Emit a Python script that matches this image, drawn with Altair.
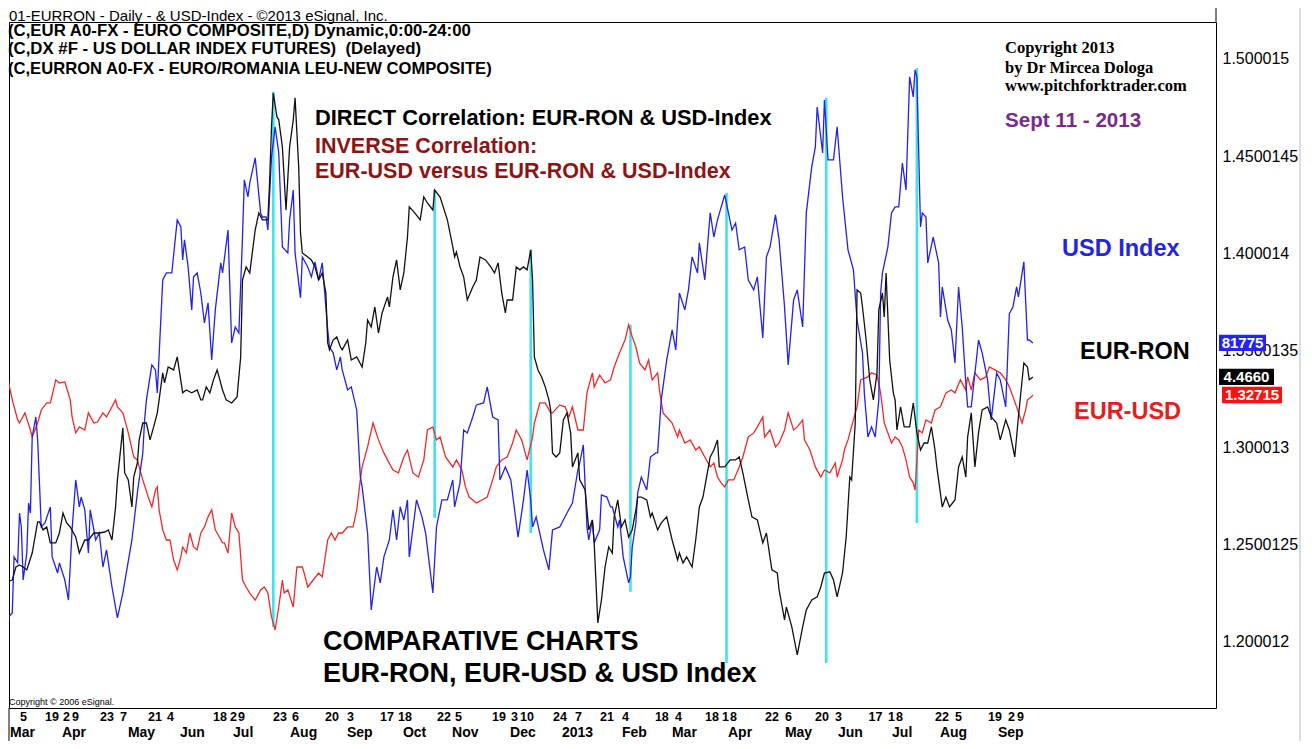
import altair as alt
import pandas as pd

# ---------------------------------------------------------------------------
# Data.  t = days since 2012-03-03 (chart time axis),
# values are in the units of the shared right-hand price scale.
# ---------------------------------------------------------------------------
usd_index = [
    (1,1.1910),(2,1.2129),(4,1.2149),(5,1.2438),(7,1.2407),(8,1.2664),(9,1.2592),(10,1.2319),
    (12,1.2458),(13,1.2715),(14,1.2664),(15,1.3055),(17,1.3158),(18,1.3040),(20,1.2592),(22,1.2613),
    (25,1.2695),(26,1.2438),(29,1.2355),(30,1.2407),(33,1.2319),(35,1.2216),(37,1.2577),(39,1.2834),
    (41,1.2695),(42,1.2746),(44,1.2680),(46,1.2458),(47,1.2680),(50,1.2525),(52,1.2561),(54,1.2386),
    (56,1.2474),(59,1.2283),(62,1.2124),(65,1.2252),(70,1.2525),(73,1.2767),(76,1.2973),(77,1.3143),
    (78,1.3246),(81,1.3426),(83,1.3400),(84,1.3282),(87,1.3863),(89,1.3899),(92,1.3899),(95,1.4172),
    (97,1.4136),(98,1.3966),(99,1.4069),(101,1.3930),(103,1.3709),(104,1.3879),(106,1.3899),(108,1.3796),
    (110,1.3642),(112,1.3745),(114,1.3451),(116,1.3709),(119,1.3951),(120,1.3899),(123,1.4120),(125,1.3539),
    (127,1.3621),(129,1.3590),(131,1.4084),(132,1.4378),(134,1.4290),(135,1.4362),(138,1.4491),(141,1.4208),
    (142,1.4187),(144,1.4187),(145,1.4120),(147,1.4496),(149,1.4651),(151,1.4517),(153,1.4033),(156,1.4002),
    (157,1.4172),(159,1.4326),(160,1.4002),(163,1.3771),(164,1.3981),(167,1.3930),(169,1.3879),(171,1.3956),
    (173,1.3863),(175,1.3951),(178,1.3606),(179,1.3518),(181,1.3488),(183,1.3400),(185,1.3467),(186,1.3400),
    (189,1.3297),(191,1.3313),(194,1.3194),(196,1.2849),(197,1.2798),(200,1.2561),(202,1.2165),(205,1.2386),
    (207,1.2304),(209,1.2438),(212,1.2525),(214,1.2680),(216,1.2525),(218,1.2695),(220,1.2628),(222,1.2731),
    (223,1.2438),(227,1.2731),(230,1.2644),(232,1.2561),(236,1.2252),(238,1.2592),(241,1.2731),(244,1.2731),
    (247,1.2834),(248,1.2695),(251,1.2819),(253,1.3091),(255,1.3076),(258,1.3158),(260,1.3220),(264,1.3230),
    (266,1.3313),(269,1.3158),(272,1.3143),(273,1.2834),(276,1.2901),(279,1.2834),(283,1.2540),(286,1.2731),
    (288,1.2885),(290,1.2731),(291,1.2592),(293,1.2644),(297,1.2474),(300,1.2371),(302,1.2577),(306,1.2592),
    (310,1.2664),(313,1.2715),(316,1.2885),(317,1.2921),(319,1.3014),(321,1.2592),(322,1.2525),(324,1.2628),
    (325,1.2510),(328,1.2577),(329,1.2757),(332,1.2746),(334,1.2695),(335,1.2695),(338,1.2592),(339,1.2628),
    (341,1.2438),(344,1.2304),(345,1.2335),(346,1.2489),(348,1.2613),(349,1.2767),(351,1.2849),(354,1.2782),
    (356,1.2952),(359,1.2973),(360,1.2973),(362,1.3246),(365,1.3451),(368,1.3606),(370,1.3503),(372,1.3796),
    (375,1.3709),(377,1.3812),(379,1.3982),(382,1.3899),(383,1.4054),(386,1.3863),(389,1.4208),(391,1.4084),
    (393,1.4172),(397,1.4301),(401,1.4120),(403,1.4156),(405,1.4018),(408,1.4033),(410,1.3863),(413,1.3812),
    (415,1.3879),(418,1.3565),(420,1.3981),(422,1.4033),(425,1.4198),(427,1.4069),(430,1.3724),(432,1.3426),
    (435,1.3760),(437,1.3812),(440,1.3621),(442,1.4208),(445,1.4445),(447,1.4548),(448,1.4753),(451,1.4517),
    (452,1.4789),(454,1.4481),(457,1.4481),(459,1.4651),(462,1.4290),(465,1.4018),(468,1.3915),(470,1.3657),
    (473,1.3488),(474,1.3282),(476,1.3055),(478,1.3107),(480,1.3055),(482,1.3246),(483,1.3796),(484,1.3899),
    (487,1.4033),(489,1.4208),(491,1.4239),(493,1.4239),(495,1.4465),(497,1.4326),(499,1.4908),(501,1.4805),
    (502,1.4944),(503,1.4908),(505,1.4136),(506,1.4208),(508,1.4187),(509,1.3951),(512,1.4084),(515,1.3951),
    (516,1.3673),(517,1.3827),(520,1.3657),(522,1.3606),(524,1.3436),(526,1.3827),(528,1.3621),(530,1.3333),
    (531,1.3210),(533,1.3210),(537,1.3554),(539,1.3488),(542,1.3349),(544,1.3143),(547,1.3385),(549,1.3349),
    (552,1.3210),(554,1.3690),(556,1.3724),(558,1.3827),(559,1.3776),(562,1.3956),(564,1.3554),(565,1.3554),
    (567,1.3539),
]

eur_ron = [
    (1,1.2309),(4,1.2319),(6,1.2386),(8,1.2396),(10,1.2386),(12,1.2371),(15,1.2458),(18,1.2618),
    (19,1.2618),(21,1.2577),(23,1.2592),(25,1.2510),(28,1.2510),(30,1.2561),(32,1.2664),(34,1.2613),
    (36,1.2592),(39,1.2541),(41,1.2458),(44,1.2525),(46,1.2525),(49,1.2561),(52,1.2561),(55,1.2566),
    (57,1.2577),(59,1.2525),(61,1.2695),(62,1.2834),(65,1.3102),(66,1.2870),(68,1.2834),(70,1.2695),
    (71,1.2849),(73,1.2921),(74,1.3040),(76,1.3127),(78,1.3127),(80,1.3040),(82,1.3107),(84,1.3179),
    (85,1.3246),(87,1.3385),(88,1.3333),(90,1.3415),(93,1.3400),(95,1.3467),(98,1.3282),(100,1.3297),
    (103,1.3282),(106,1.3297),(108,1.3246),(109,1.3246),(111,1.3313),(113,1.3282),(115,1.3349),(117,1.3400),
    (120,1.3297),(122,1.3246),(125,1.3230),(128,1.3261),(130,1.3467),(131,1.3863),(133,1.3930),(135,1.3899),
    (138,1.4120),(140,1.4208),(142,1.4172),(145,1.4172),(146,1.4378),(147,1.4651),(148,1.4825),(150,1.4702),
    (151,1.4687),(153,1.4548),(155,1.4223),(157,1.4548),(159,1.4687),(160,1.4800),(162,1.4445),(163,1.4105),
    (164,1.4002),(167,1.3981),(169,1.3966),(171,1.3930),(173,1.3863),(175,1.3899),(177,1.3796),(178,1.3539),
    (179,1.3503),(181,1.3554),(183,1.3570),(185,1.3518),(186,1.3503),(189,1.3554),(191,1.3451),(194,1.3467),
    (197,1.3415),(199,1.3539),(200,1.3657),(202,1.3621),(204,1.3724),(206,1.3590),(208,1.3693),(211,1.3776),
    (212,1.3724),(214,1.3879),(216,1.3966),(218,1.3812),(220,1.3899),(222,1.4084),(223,1.4239),(226,1.4208),
    (229,1.4172),(231,1.4290),(233,1.4259),(236,1.4223),(237,1.4326),(240,1.4290),(244,1.4172),(247,1.4033),
    (248,1.3981),(249,1.4007),(251,1.3930),(253,1.3879),(255,1.3760),(258,1.3827),(260,1.3863),(262,1.3981),
    (265,1.3966),(268,1.3930),(270,1.3899),(272,1.3951),(274,1.3796),(276,1.3693),(277,1.3760),(280,1.3760),
    (282,1.3930),(284,1.3915),(286,1.3930),(288,1.3915),(290,1.4018),(291,1.3863),(292,1.3467),(294,1.3400),
    (296,1.3364),(298,1.3313),(300,1.3246),(301,1.3194),(302,1.2973),(304,1.2952),(306,1.2973),(308,1.3143),
    (310,1.3179),(312,1.3076),(313,1.2901),(316,1.2973),(317,1.2834),(320,1.2782),(322,1.2577),(324,1.2628),
    (325,1.2510),(327,1.2098),(329,1.2216),(331,1.2386),(333,1.2489),(335,1.2458),(336,1.2644),(338,1.2731),
    (340,1.2592),(342,1.2628),(344,1.2540),(346,1.2577),(348,1.2680),(349,1.2746),(351,1.2746),(354,1.2731),
    (356,1.2644),(357,1.2664),(360,1.2577),(362,1.2613),(365,1.2644),(368,1.2525),(371,1.2422),(372,1.2458),
    (374,1.2407),(376,1.2438),(379,1.2386),(381,1.2525),(383,1.2695),(385,1.2746),(387,1.2849),(389,1.2952),
    (391,1.2988),(393,1.3040),(394,1.2901),(397,1.2901),(400,1.2937),(403,1.2937),(405,1.2952),(407,1.2870),
    (410,1.2731),(412,1.2644),(415,1.2628),(418,1.2510),(420,1.2561),(423,1.2371),(426,1.2355),(427,1.2268),
    (430,1.2114),(431,1.2180),(434,1.2078),(437,1.1934),(440,1.2078),(442,1.2165),(445,1.2216),(448,1.2232),
    (450,1.2283),(452,1.2355),(455,1.2361),(457,1.2319),(459,1.2232),(462,1.2355),(464,1.2540),(466,1.2849),
    (467,1.2834),(469,1.3127),(470,1.3812),(472,1.3796),(473,1.3724),(475,1.3554),(477,1.3349),(479,1.3246),
    (481,1.3385),(482,1.3709),(484,1.3796),(485,1.3673),(486,1.3899),(488,1.3451),(490,1.3282),(491,1.3246),
    (492,1.3091),(494,1.3210),(496,1.3107),(499,1.3107),(501,1.3230),(503,1.3076),(505,1.2988),(507,1.3024),
    (509,1.3024),(511,1.3107),(513,1.2988),(514,1.2901),(517,1.2695),(519,1.2746),(521,1.2695),(524,1.2731),
    (526,1.2901),(528,1.2952),(530,1.2849),(531,1.3055),(533,1.3179),(535,1.2901),(537,1.3076),(539,1.3194),
    (542,1.3210),(544,1.3158),(547,1.3127),(549,1.3040),(552,1.3143),(554,1.3091),(557,1.2952),(559,1.3158),
    (562,1.3436),(564,1.3415),(565,1.3349),(567,1.3364),
]

eur_usd = [
    (1,1.3467),(2,1.3333),(4,1.3246),(7,1.3143),(8,1.3127),(11,1.3179),(14,1.3091),(15,1.3055),
    (18,1.3127),(20,1.3194),(23,1.3230),(25,1.3230),(28,1.3349),(30,1.3333),(33,1.3338),(36,1.3246),
    (37,1.3158),(39,1.3076),(41,1.3107),(44,1.3091),(46,1.3179),(49,1.3127),(51,1.3132),(54,1.3179),
    (56,1.3158),(61,1.3246),(62,1.3210),(65,1.3179),(68,1.3076),(71,1.2952),(73,1.2937),(74,1.2901),
    (76,1.2834),(79,1.2746),(81,1.2695),(83,1.2782),(84,1.2798),(85,1.2680),(87,1.2577),(89,1.2525),
    (91,1.2525),(93,1.2422),(95,1.2371),(97,1.2438),(98,1.2489),(100,1.2458),(102,1.2561),(104,1.2489),
    (106,1.2474),(108,1.2561),(110,1.2592),(112,1.2644),(114,1.2680),(116,1.2577),(117,1.2561),(120,1.2510),
    (121,1.2510),(123,1.2458),(125,1.2664),(127,1.2592),(129,1.2561),(131,1.2319),(133,1.2283),(135,1.2252),
    (138,1.2216),(141,1.2268),(143,1.2283),(145,1.2252),(147,1.2129),(149,1.2062),(151,1.2180),(153,1.2319),
    (154,1.2252),(156,1.2268),(159,1.2180),(161,1.2386),(164,1.2386),(165,1.2355),(167,1.2283),(170,1.2319),
    (173,1.2355),(175,1.2335),(178,1.2525),(180,1.2561),(182,1.2525),(184,1.2561),(186,1.2561),(189,1.2592),
    (192,1.2592),(194,1.2680),(196,1.2834),(197,1.2901),(200,1.3004),(203,1.3127),(206,1.3040),(209,1.2973),
    (211,1.2937),(214,1.2885),(217,1.2870),(220,1.2952),(222,1.2988),(225,1.2870),(228,1.2849),(231,1.2937),
    (233,1.3091),(236,1.3107),(238,1.3040),(240,1.3055),(243,1.2952),(247,1.2901),(249,1.2937),(252,1.2885),
    (254,1.2798),(256,1.2746),(260,1.2715),(263,1.2731),(266,1.2746),(269,1.2834),(271,1.2901),(274,1.2937),
    (277,1.2952),(280,1.3024),(282,1.3091),(285,1.3040),(288,1.2937),(291,1.3055),(292,1.3127),(295,1.3230),
    (298,1.3230),(301,1.3179),(302,1.3179),(306,1.3220),(309,1.3210),(311,1.3158),(313,1.3210),(316,1.3091),
    (319,1.3091),(321,1.3282),(324,1.3385),(325,1.3313),(328,1.3374),(331,1.3333),(334,1.3349),(336,1.3415),
    (339,1.3488),(342,1.3554),(344,1.3632),(346,1.3570),(348,1.3518),(350,1.3436),(353,1.3400),(355,1.3451),
    (357,1.3349),(360,1.3385),(361,1.3297),(363,1.3179),(365,1.3158),(368,1.3127),(371,1.3055),(372,1.3091),
    (375,1.3024),(378,1.3040),(381,1.2988),(383,1.3004),(386,1.2952),(389,1.2901),(391,1.2921),(393,1.2849),
    (395,1.2819),(397,1.2798),(399,1.2834),(402,1.2834),(405,1.2901),(407,1.2952),(410,1.3055),(413,1.3076),
    (415,1.3107),(418,1.3158),(419,1.3055),(422,1.3091),(425,1.3004),(427,1.3024),(430,1.3091),(432,1.3179),
    (435,1.3091),(437,1.3107),(440,1.3143),(441,1.3040),(444,1.2988),(447,1.2901),(450,1.2849),(452,1.2885),
    (455,1.2870),(458,1.2921),(459,1.2849),(462,1.2937),(463,1.2988),(465,1.3040),(468,1.3143),(470,1.3210),
    (472,1.3349),(476,1.3364),(478,1.3385),(481,1.3374),(483,1.3282),(485,1.3127),(487,1.3076),(489,1.3024),
    (491,1.3055),(493,1.3040),(495,1.3004),(497,1.2937),(499,1.2849),(501,1.2819),(502,1.2782),(504,1.3091),
    (506,1.3076),(508,1.3143),(511,1.3127),(513,1.3194),(516,1.3210),(519,1.3282),(522,1.3297),(524,1.3282),
    (527,1.3349),(530,1.3297),(531,1.3364),(533,1.3297),(535,1.3385),(538,1.3349),(541,1.3364),(543,1.3415),
    (546,1.3400),(549,1.3385),(552,1.3349),(554,1.3313),(558,1.3210),(561,1.3127),(563,1.3194),(564,1.3246),
    (566,1.3261),(567,1.3271),
]

# cyan correlation markers: time, top value, bottom value
marker_t = [148, 237, 290, 345, 398, 453, 503]
marker_top = [1.4831, 1.4326, 1.4018, 1.3632, 1.4311, 1.4800, 1.4954]
marker_bottom = [1.2077, 1.2638, 1.2561, 1.2258, 1.1892, 1.1892, 1.2613]

# x-axis tick labels (time position, text)
day_labels = ["5","19","2","9","23","7","21","4","18","2","9","23","6","20","3","17","1","8","22","5",
              "19","3","10","24","7","21","4","18","4","18","1","8","22","6","20","3","17","1","8","22",
              "5","19","2","9"]
day_t = [8.3,22.1,32.0,37.0,52.4,63.4,78.9,89.4,114.7,124.1,128.5,147.8,158.3,176.5,188.6,206.9,216.8,
         220.6,238.3,248.2,268.6,279.1,284.1,302.3,314.4,328.2,340.3,358.5,369.6,386.1,395.5,399.9,419.2,
         430.2,446.8,457.8,476.3,487.1,491.5,513.0,524.0,542.2,553.3,558.2]
month_labels = ["Mar","Apr","May","Jun","Jul","Aug","Sep","Oct","Nov","Dec","2013","Feb","Mar","Apr",
                "May","Jun","Jul","Aug","Sep"]
month_t = [2.8,31.4,67.8,96.5,125.8,157.2,188.6,219.5,246.6,278.6,307.2,340.3,367.9,398.8,430.2,459.5,
           489.3,515.7,547.7]

# y-axis tick values
y_ticks = [1.200012, 1.2500125, 1.300013, 1.3500135, 1.400014, 1.4500145, 1.500015]

# last-price tags
tag_text = {"USD Index": "81775", "EUR-RON": "4.4660", "EUR-USD": "1.32715"}

# ---------------------------------------------------------------------------
W, H = 1207, 686
SANS = "Liberation Sans"
SERIF = "Liberation Serif"
BLUE, BLACK, RED, CYAN = "#2222e8", "#111111", "#ee2a2a", "#3fe3ec"

def frame(pairs):
    return pd.DataFrame(pairs, columns=["t", "v"])

xs = alt.Scale(domain=[2.2, 668.0], nice=False, zero=False)
ys = alt.Scale(domain=[1.16604, 1.51904], nice=False, zero=False)
yaxis = alt.Axis(orient="right", values=y_ticks, format=".7~f", ticks=False, domain=False,
                 grid=False, labelFontSize=16, labelFont=SANS, labelColor="black",
                 labelPadding=6, title=None, labelOverlap=False, labelFlush=False)
X = alt.X("t:Q", scale=xs, axis=None)


def line(pairs, color):
    return alt.Chart(frame(pairs)).mark_line(color=color, strokeWidth=1.3, clip=True).encode(
        x=X, y=alt.Y("v:Q", scale=ys, axis=yaxis))


markers = alt.Chart(pd.DataFrame({"t": marker_t, "top": marker_top, "bottom": marker_bottom})).mark_rule(
    color=CYAN, strokeWidth=2.6).encode(x=X, y=alt.Y("top:Q", scale=ys, axis=yaxis), y2="bottom:Q")


def text(s, x, y, size, color="black", weight="bold", font=SANS, align="left", baseline="middle"):
    return alt.Chart(pd.DataFrame({"label": [s]})).mark_text(
        align=align, baseline=baseline, fontSize=size, fontWeight=weight, font=font, color=color
    ).encode(x=alt.value(x), y=alt.value(y), text="label:N")


def deco(x, x2, y, y2, color="black"):
    return alt.Chart(pd.DataFrame({"d": [0]})).mark_rule(color=color, strokeWidth=1).encode(
        x=alt.value(x), x2=alt.value(x2), y=alt.value(y), y2=alt.value(y2))


days = alt.Chart(pd.DataFrame({"t": day_t, "lab": day_labels})).mark_text(
    align="left", baseline="middle", fontSize=12.5, fontWeight="bold", font=SANS, color="black"
).encode(x=X, y=alt.value(695), text="lab:N")
months = alt.Chart(pd.DataFrame({"t": month_t, "lab": month_labels})).mark_text(
    align="left", baseline="middle", fontSize=14, fontWeight="bold", font=SANS, color="black"
).encode(x=X, y=alt.value(711), text="lab:N")


def tag(pairs, label, color, x1, x2):
    df = pd.DataFrame({"v": [pairs[-1][1]], "lab": [label]})
    box = alt.Chart(df).transform_calculate(
        hi="datum.v + 0.0042", lo="datum.v - 0.0042"
    ).mark_rect(color=color).encode(
        x=alt.value(x1), x2=alt.value(x2),
        y=alt.Y("hi:Q", scale=ys, axis=yaxis), y2="lo:Q")
    txt = alt.Chart(df).mark_text(color="white", fontSize=15, fontWeight="bold", font=SANS,
                                   align="center", baseline="middle").encode(
        x=alt.value((x1 + x2) / 2), y=alt.Y("v:Q", scale=ys, axis=yaxis), text="lab:N")
    return box + txt


DARKRED = "#8e1414"
layers = [
    markers,
    line(eur_usd, RED),
    line(usd_index, BLUE),
    line(eur_ron, BLACK),
    text("01-EURRON - Daily - & USD-Index - \u00a92013 eSignal, Inc.", 0, -1.5, 15,
         weight="normal", baseline="alphabetic"),
    text("(C,EUR A0-FX - EURO COMPOSITE,D) Dynamic,0:00-24:00", -1, 9, 16.8),
    text("(C,DX #F - US DOLLAR INDEX FUTURES) \u00a0(Delayed)", -1, 27, 16.8),
    text("(C,EURRON A0-FX - EURO/ROMANIA LEU-NEW COMPOSITE)", -1, 47, 16.6),
    text("DIRECT Correlation: EUR-RON & USD-Index", 306, 96, 21.8),
    text("INVERSE Correlation:", 306, 125, 21.5, color=DARKRED),
    text("EUR-USD versus EUR-RON & USD-Index", 306, 150, 21.5, color=DARKRED),
    text("COMPARATIVE CHARTS", 314, 620, 27),
    text("EUR-RON, EUR-USD & USD Index", 314, 652, 27),
    text("Copyright 2013", 996, 26, 16.5, font=SERIF),
    text("by Dr Mircea Dologa", 996, 46, 16.5, font=SERIF),
    text("www.pitchforktrader.com", 996, 64, 16.5, font=SERIF),
    text("Sept 11 - 2013", 996, 99, 20.6, color="#7b2a8c"),
    text("USD Index", 1053, 227, 23.5, color=BLUE),
    text("EUR-RON", 1071, 330, 23.5),
    text("EUR-USD", 1065, 390, 23.5, color="#e41e1e"),
    text("Copyright \u00a9 2006 eSignal.", 0, 680, 9, weight="normal"),
    days,
    months,
    tag(usd_index, tag_text["USD Index"], "#2424f0", 1210, 1257),
    tag(eur_ron, tag_text["EUR-RON"], "#000000", 1210, 1265),
    tag(eur_usd, tag_text["EUR-USD"], "#ff1010", 1213, 1273),
    deco(1207, 1207, -14, 0),
    deco(0, 0, H, H + 33),
    deco(1291, 1291, -14, H + 33, color="#bbbbbb"),
]

chart = alt.layer(*layers).properties(
    width=W, height=H,
    autosize=alt.AutoSizeParams(type="none"),
    padding={"left": 1, "top": 14, "right": 88, "bottom": 33},
    background="white",
).configure_view(stroke="black", strokeWidth=1)

chart.save("out.html", embed_options={"renderer": "svg", "actions": False})
